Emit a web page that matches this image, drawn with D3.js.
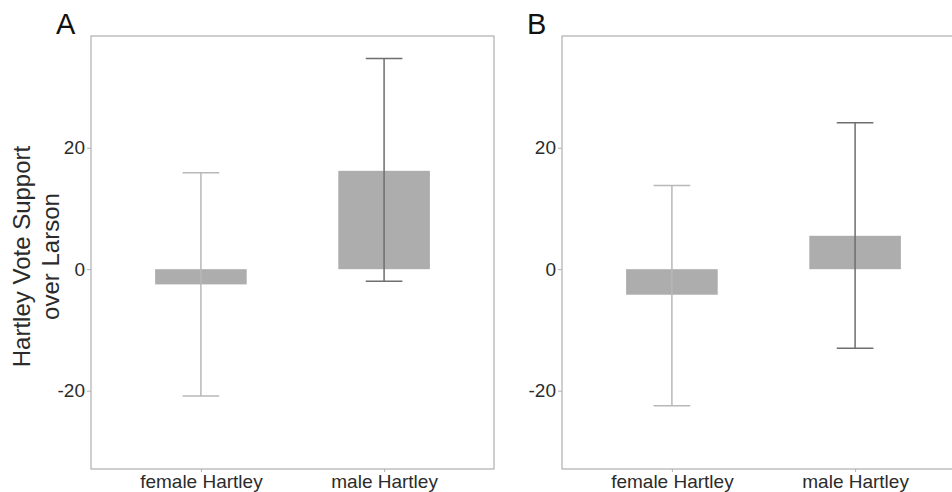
<!DOCTYPE html>
<html><head><meta charset="utf-8">
<script src="https://cdn.jsdelivr.net/npm/d3@7"></script>
<style>body{margin:0;background:#fff;} svg{display:block;}</style>
</head><body>
<svg id="c" width="952" height="492"></svg>
<script>
const categories = ["female Hartley", "male Hartley"];
const panels = ["A", "B"];
const meanA = [-2.5, 16.2];
const lowA = [-20.9, -2.0];
const highA = [15.9, 34.7];
const meanB = [-4.2, 5.5];
const lowB = [-22.5, -13.0];
const highB = [13.8, 24.1];
const yTicks = [-20, 0, 20];
const yTitle = ["Hartley Vote Support", "over Larson"];

(function () {
const svg = d3.select("#c");
const font = "'Liberation Sans', Arial, sans-serif";
const plotTop = 36, plotBottom = 469, plotW = 403;
const lefts = [91, 562];
const data = [
  {mean: meanA, low: lowA, high: highA},
  {mean: meanB, low: lowB, high: highB}
];
const y = d3.scaleLinear().domain([-32.9, 38.4]).range([plotBottom, plotTop]);
const errColors = ["#b8b8b8", "#6e6e6e"];

panels.forEach((p, pi) => {
  const L = lefts[pi];
  const xc = d3.scaleLinear().domain([0.4, 2.6]).range([L, L + plotW]);
  const g = svg.append("g");
  categories.forEach((c, i) => {
    const m = data[pi].mean[i];
    const x0 = xc(i + 1 - 0.25), x1 = xc(i + 1 + 0.25);
    g.append("rect").attr("x", x0).attr("width", x1 - x0)
      .attr("y", y(Math.max(0, m))).attr("height", Math.abs(y(m) - y(0)))
      .attr("fill", "#adadad");
  });
  categories.forEach((c, i) => {
    const cx = xc(i + 1);
    const lo = y(data[pi].low[i]), hi = y(data[pi].high[i]);
    const cw = xc(1.1) - xc(1);
    const col = errColors[i];
    g.append("line").attr("x1", cx).attr("x2", cx).attr("y1", lo).attr("y2", hi)
      .attr("stroke", col).attr("stroke-width", 1.5);
    [lo, hi].forEach(yy => g.append("line").attr("x1", cx - cw).attr("x2", cx + cw)
      .attr("y1", yy).attr("y2", yy).attr("stroke", col).attr("stroke-width", 1.5));
  });
  g.append("rect").attr("x", L).attr("y", plotTop).attr("width", plotW).attr("height", plotBottom - plotTop)
    .attr("fill", "none").attr("stroke", "#b0b0b0").attr("stroke-width", 1.2);
  const ya = svg.append("g").attr("transform", `translate(${L},0)`)
    .call(d3.axisLeft(y).tickValues(yTicks).tickSize(4).tickPadding(2).tickFormat(d => String(d)));
  ya.select(".domain").remove();
  ya.selectAll(".tick line").attr("stroke", "#b0b0b0");
  ya.selectAll(".tick text").attr("font-family", font).attr("font-size", 19).attr("fill", "#2b2b2b");
  const xb = d3.scalePoint().domain(categories).range([xc(1), xc(2)]);
  const xa = svg.append("g").attr("transform", `translate(0,${plotBottom})`)
    .call(d3.axisBottom(xb).tickSize(3).tickPadding(3));
  xa.select(".domain").remove();
  xa.selectAll(".tick line").attr("stroke", "#b0b0b0");
  xa.selectAll(".tick text").attr("font-family", font).attr("font-size", 19).attr("fill", "#2b2b2b");
  svg.append("text").attr("x", L - 35).attr("y", 34).text(p)
    .attr("font-family", font).attr("font-size", 29).attr("fill", "#111");
});

const yt = svg.append("text").attr("transform", `translate(0,${(plotTop + plotBottom) / 2 + 4}) rotate(-90)`)
  .attr("text-anchor", "middle").attr("font-family", font).attr("font-size", 24).attr("fill", "#2b2b2b");
yTitle.forEach((t, i) => yt.append("tspan").attr("x", 0).attr("y", 30 + i * 29).text(t));
})();
</script>
</body></html>
